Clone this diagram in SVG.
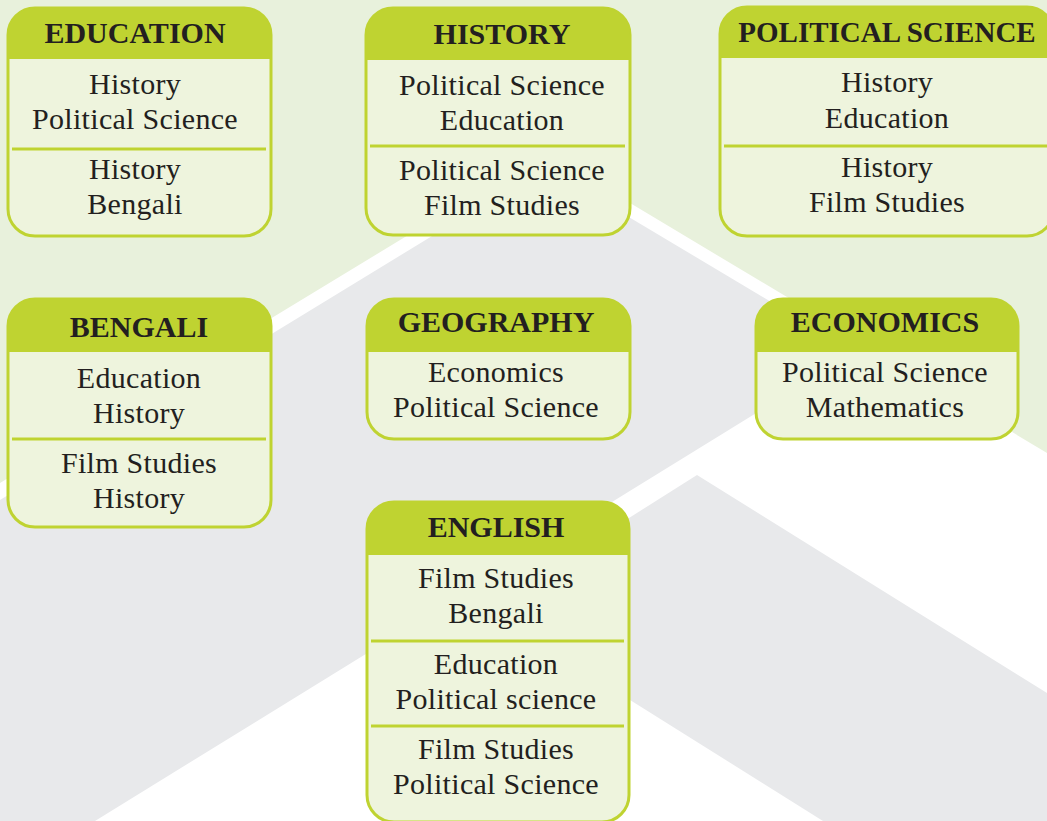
<svg xmlns="http://www.w3.org/2000/svg" width="1047" height="821" viewBox="0 0 1047 821">
<style>
.card{fill:#eef4dd;stroke:#bfd331;stroke-width:3}
.hdr{fill:#bfd331}
.div{stroke:#bfd331;stroke-width:3;fill:none}
.h{font-family:"Liberation Serif","Times New Roman",serif;font-weight:bold;font-size:30px;fill:#231f20;text-anchor:middle}
.t{font-family:"Liberation Serif","Times New Roman",serif;font-size:30px;letter-spacing:0.3px;fill:#231f20;text-anchor:middle}
</style>
<g id="background">
<rect x="0" y="0" width="1047" height="821" fill="#ffffff"/>
<polygon points="0,0 1047,0 1047,453 545,152 0,483" fill="#e8f1dc"/>
<polygon points="0,500 545,167 855,352 95,821 0,821" fill="#e8e9eb"/>
<polygon points="485,609 697,475 1047,693 1047,821 823,821" fill="#e8e9eb"/>
</g>
<g id="connectors"></g>
<g id="education">
<rect class="card" x="8" y="8" width="263" height="228" rx="27"/>
<path class="hdr" d="M8,59 V35 A27,27 0 0 1 35,8 H244 A27,27 0 0 1 271,35 V59 Z"/>
<line class="div" x1="12" y1="149" x2="266" y2="149"/>
<text class="h" x="135" y="43">EDUCATION</text>
<text class="t" x="135" y="94">History</text>
<text class="t" x="135" y="129">Political Science</text>
<text class="t" x="135" y="179">History</text>
<text class="t" x="135" y="214">Bengali</text>
</g>
<g id="history">
<rect class="card" x="366" y="8" width="264" height="227" rx="27"/>
<path class="hdr" d="M366,60 V35 A27,27 0 0 1 393,8 H603 A27,27 0 0 1 630,35 V60 Z"/>
<line class="div" x1="370" y1="146" x2="625" y2="146"/>
<text class="h" x="502" y="44">HISTORY</text>
<text class="t" x="502" y="95">Political Science</text>
<text class="t" x="502" y="130">Education</text>
<text class="t" x="502" y="180">Political Science</text>
<text class="t" x="502" y="215">Film Studies</text>
</g>
<g id="political-science">
<rect class="card" x="720" y="7" width="334" height="229" rx="27"/>
<path class="hdr" d="M720,58 V34 A27,27 0 0 1 747,7 H1027 A27,27 0 0 1 1054,34 V58 Z"/>
<line class="div" x1="724" y1="146" x2="1049" y2="146"/>
<text class="h" x="887" y="42" style="font-size:29px">POLITICAL SCIENCE</text>
<text class="t" x="887" y="92">History</text>
<text class="t" x="887" y="128">Education</text>
<text class="t" x="887" y="177">History</text>
<text class="t" x="887" y="212">Film Studies</text>
</g>
<g id="bengali">
<rect class="card" x="8" y="299" width="263" height="228" rx="27"/>
<path class="hdr" d="M8,352 V326 A27,27 0 0 1 35,299 H244 A27,27 0 0 1 271,326 V352 Z"/>
<line class="div" x1="12" y1="439" x2="266" y2="439"/>
<text class="h" x="139" y="337">BENGALI</text>
<text class="t" x="139" y="388">Education</text>
<text class="t" x="139" y="423">History</text>
<text class="t" x="139" y="473">Film Studies</text>
<text class="t" x="139" y="508">History</text>
</g>
<g id="geography">
<rect class="card" x="367" y="299" width="263" height="140" rx="27"/>
<path class="hdr" d="M367,352 V326 A27,27 0 0 1 394,299 H603 A27,27 0 0 1 630,326 V352 Z"/>
<text class="h" x="496" y="332">GEOGRAPHY</text>
<text class="t" x="496" y="382">Economics</text>
<text class="t" x="496" y="417">Political Science</text>
</g>
<g id="economics">
<rect class="card" x="756" y="299" width="262" height="140" rx="27"/>
<path class="hdr" d="M756,352 V326 A27,27 0 0 1 783,299 H991 A27,27 0 0 1 1018,326 V352 Z"/>
<text class="h" x="885" y="332">ECONOMICS</text>
<text class="t" x="885" y="382">Political Science</text>
<text class="t" x="885" y="417">Mathematics</text>
</g>
<g id="english">
<rect class="card" x="367" y="502" width="262" height="320" rx="27"/>
<path class="hdr" d="M367,555 V529 A27,27 0 0 1 394,502 H602 A27,27 0 0 1 629,529 V555 Z"/>
<line class="div" x1="371" y1="641" x2="624" y2="641"/>
<line class="div" x1="371" y1="726" x2="624" y2="726"/>
<text class="h" x="496" y="537">ENGLISH</text>
<text class="t" x="496" y="588">Film Studies</text>
<text class="t" x="496" y="623">Bengali</text>
<text class="t" x="496" y="674">Education</text>
<text class="t" x="496" y="709">Political science</text>
<text class="t" x="496" y="759">Film Studies</text>
<text class="t" x="496" y="794">Political Science</text>
</g>
</svg>
